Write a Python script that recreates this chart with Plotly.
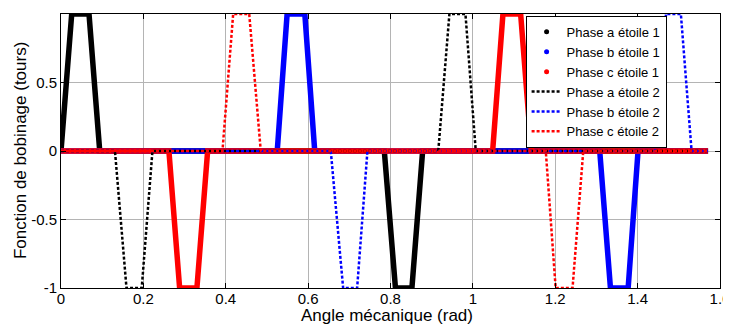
import plotly.graph_objects as go

# Winding-function vertices (angle in rad, turns)
a1_x = [0, 0.026, 0.068, 0.094, 0.785, 0.812, 0.852, 0.878, 1.571]
a1_y = [0, 1, 1, 0, 0, -1, -1, 0, 0]
b1_x = [0, 0.525, 0.549, 0.592, 0.616, 1.308, 1.334, 1.377, 1.401, 1.571]
b1_y = [0, 0, 1, 1, 0, 0, -1, -1, 0, 0]
c1_x = [0, 0.262, 0.288, 0.330, 0.356, 1.048, 1.073, 1.116, 1.142, 1.571]
c1_y = [0, 0, -1, -1, 0, 0, 1, 1, 0, 0]
a2_x = [0, 0.131, 0.159, 0.196, 0.222, 0.916, 0.943, 0.982, 1.007, 1.571]
a2_y = [0, 0, -1, -1, 0, 0, 1, 1, 0, 0]
b2_x = [0, 0.655, 0.685, 0.719, 0.744, 1.442, 1.469, 1.505, 1.531, 1.571]
b2_y = [0, 0, -1, -1, 0, 0, 1, 1, 0, 0]
c2_x = [0, 0.392, 0.418, 0.457, 0.485, 1.177, 1.201, 1.242, 1.268, 1.571]
c2_y = [0, 0, 1, 1, 0, 0, -1, -1, 0, 0]

names = ["Phase a étoile 1", "Phase b étoile 1", "Phase c étoile 1",
         "Phase a étoile 2", "Phase b étoile 2", "Phase c étoile 2"]
colors = ["black", "blue", "red"]
x_ticks = [0, 0.2, 0.4, 0.6, 0.8, 1, 1.2, 1.4, 1.6]
x_tick_labels = ["0", "0.2", "0.4", "0.6", "0.8", "1", "1.2", "1.4", "1.6"]
y_ticks = [-1, -0.5, 0, 0.5, 1]
y_tick_labels = ["-1", "-0.5", "0", "0.5", "1"]
x_title = "Angle mécanique (rad)"
y_title = "Fonction de bobinage (tours)"

FONT = "Liberation Sans, Arial, sans-serif"

fig = go.Figure()
star1 = [(a1_x, a1_y), (b1_x, b1_y), (c1_x, c1_y)]
star2 = [(a2_x, a2_y), (b2_x, b2_y), (c2_x, c2_y)]

for i, (xs, ys) in enumerate(star1):
    fig.add_trace(go.Scatter(x=xs, y=ys, mode="lines",
                             line=dict(color=colors[i], width=5.5),
                             showlegend=False, hoverinfo="skip"))
for i, (xs, ys) in enumerate(star2):
    fig.add_trace(go.Scatter(x=xs, y=ys, mode="lines",
                             line=dict(color=colors[i], width=2.5, dash="3px,2px"),
                             showlegend=False, hoverinfo="skip"))
# legend entries
for i in range(3):
    fig.add_trace(go.Scatter(x=[None], y=[None], mode="markers", name=names[i],
                             marker=dict(color=colors[i], size=5)))
for i in range(3):
    fig.add_trace(go.Scatter(x=[None], y=[None], mode="lines", name=names[3 + i],
                             line=dict(color=colors[i], width=2.5, dash="3px,2px")))

axis_common = dict(showline=True, linecolor="black", linewidth=1, mirror="ticks",
                   ticks="inside", ticklen=5, tickcolor="black", automargin=False,
                   showgrid=True, gridcolor="#b4b4b4", gridwidth=1, zeroline=False,
                   tickfont=dict(family=FONT, size=15, color="black"))

fig.update_layout(
    width=723, height=317,
    margin=dict(l=53, r=11, t=6, b=37),
    paper_bgcolor="white", plot_bgcolor="white",
    font=dict(family=FONT, size=14, color="black"),
    xaxis=dict(range=[0, 1.6], tickvals=x_ticks, ticktext=x_tick_labels,
               ticklabelstandoff=-3, **axis_common),
    yaxis=dict(range=[-1, 1], tickvals=y_ticks, ticktext=y_tick_labels, **axis_common),
    legend=dict(x=0.705, y=0.993, xanchor="left", yanchor="top",
                bgcolor="white", bordercolor="black", borderwidth=1,
                font=dict(size=13), tracegroupgap=0, itemwidth=30),
    annotations=[
        dict(text=x_title, xref="paper", yref="paper", x=0.494, y=-0.100,
             xanchor="center", yanchor="middle", showarrow=False,
             font=dict(family=FONT, size=17, color="black")),
        dict(text=y_title, xref="paper", yref="paper", x=-0.0622, y=0.5,
             xanchor="center", yanchor="middle", showarrow=False, textangle=-90,
             font=dict(family=FONT, size=17, color="black")),
    ],
)

fig.write_html("out.html")
